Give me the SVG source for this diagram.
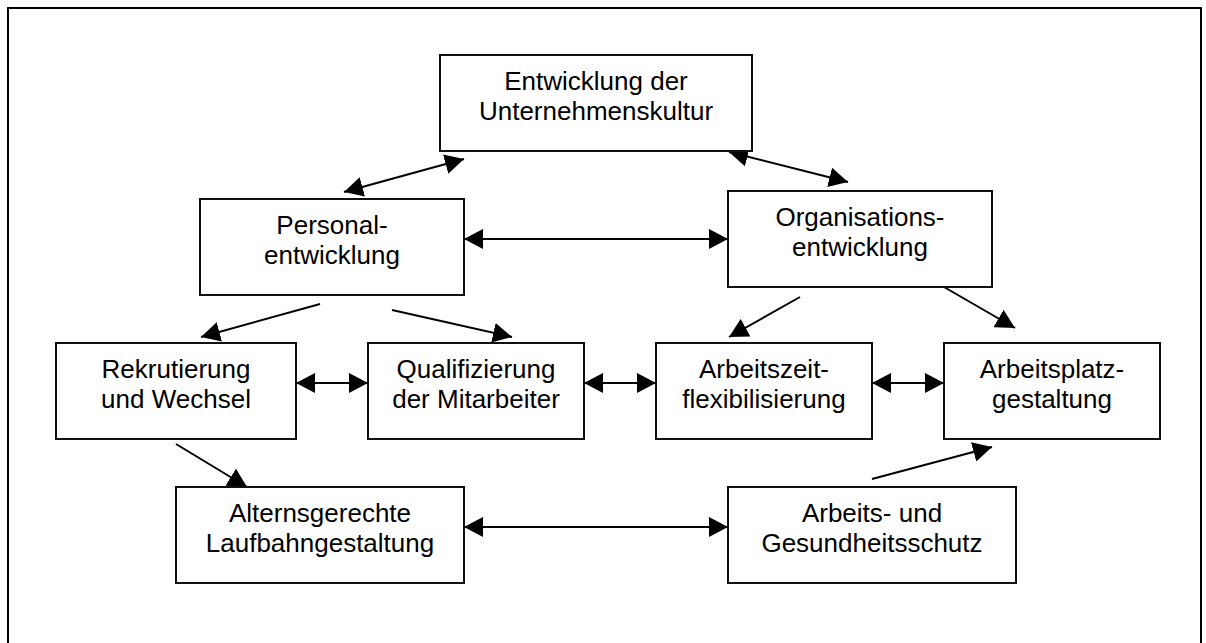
<svg xmlns="http://www.w3.org/2000/svg" width="1206" height="643" viewBox="0 0 1206 643">
<style>
  .box { fill: #ffffff; stroke: #111111; stroke-width: 2; }
  .lbl { font-family: "Liberation Sans", Arial, sans-serif; font-size: 26px; fill: #000000; text-anchor: middle; }
  .con { stroke: #000000; stroke-width: 2; fill: none; }
  .one { marker-end: url(#ah); }
  .two { marker-start: url(#ah); marker-end: url(#ah); }
</style>
<defs>
  <marker id="ah" viewBox="0 0 19 20" refX="19" refY="10" markerWidth="19" markerHeight="20" markerUnits="userSpaceOnUse" orient="auto-start-reverse">
    <path d="M0,0 L19,10 L0,20 z" fill="#000000"/>
  </marker>
</defs>
<rect width="1206" height="643" fill="#ffffff"/>
<path d="M8,650 V8 H1201 V650" fill="none" stroke="#000000" stroke-width="2"/>

<g id="connectors">
  <line class="con two" x1="344" y1="192" x2="464" y2="159"/>
  <line class="con two" x1="729" y1="152" x2="848" y2="182"/>
  <line class="con two" x1="464" y1="239" x2="728" y2="239"/>
  <line class="con one" x1="320" y1="304" x2="201" y2="337"/>
  <line class="con one" x1="392" y1="310" x2="512" y2="337"/>
  <line class="con one" x1="800" y1="297" x2="729" y2="337"/>
  <line class="con one" x1="944" y1="287" x2="1015" y2="328"/>
  <line class="con two" x1="296" y1="383" x2="368" y2="383"/>
  <line class="con two" x1="584" y1="383" x2="656" y2="383"/>
  <line class="con two" x1="872" y1="383" x2="944" y2="383"/>
  <line class="con one" x1="176" y1="444" x2="247" y2="487"/>
  <line class="con two" x1="464" y1="527" x2="728" y2="527"/>
  <line class="con one" x1="872" y1="479" x2="992" y2="447"/>
</g>

<g id="node-kultur">
  <rect class="box" x="440" y="55" width="312" height="96"/>
  <text class="lbl" x="596" y="90">Entwicklung der</text>
  <text class="lbl" x="596" y="120">Unternehmenskultur</text>
</g>
<g id="node-personal">
  <rect class="box" x="200" y="199" width="264" height="96"/>
  <text class="lbl" x="332" y="234">Personal-</text>
  <text class="lbl" x="332" y="264">entwicklung</text>
</g>
<g id="node-organisation">
  <rect class="box" x="728" y="191" width="264" height="96"/>
  <text class="lbl" x="860" y="226">Organisations-</text>
  <text class="lbl" x="860" y="256">entwicklung</text>
</g>
<g id="node-rekrutierung">
  <rect class="box" x="56" y="343" width="240" height="96"/>
  <text class="lbl" x="176" y="378">Rekrutierung</text>
  <text class="lbl" x="176" y="408">und Wechsel</text>
</g>
<g id="node-qualifizierung">
  <rect class="box" x="368" y="343" width="216" height="96"/>
  <text class="lbl" x="476" y="378">Qualifizierung</text>
  <text class="lbl" x="476" y="408">der Mitarbeiter</text>
</g>
<g id="node-arbeitszeit">
  <rect class="box" x="656" y="343" width="216" height="96"/>
  <text class="lbl" x="764" y="378">Arbeitszeit-</text>
  <text class="lbl" x="764" y="408">flexibilisierung</text>
</g>
<g id="node-arbeitsplatz">
  <rect class="box" x="944" y="343" width="216" height="96"/>
  <text class="lbl" x="1052" y="378">Arbeitsplatz-</text>
  <text class="lbl" x="1052" y="408">gestaltung</text>
</g>
<g id="node-laufbahn">
  <rect class="box" x="176" y="487" width="288" height="96"/>
  <text class="lbl" x="320" y="522">Alternsgerechte</text>
  <text class="lbl" x="320" y="552">Laufbahngestaltung</text>
</g>
<g id="node-gesundheit">
  <rect class="box" x="728" y="487" width="288" height="96"/>
  <text class="lbl" x="872" y="522">Arbeits- und</text>
  <text class="lbl" x="872" y="552">Gesundheitsschutz</text>
</g>
</svg>
